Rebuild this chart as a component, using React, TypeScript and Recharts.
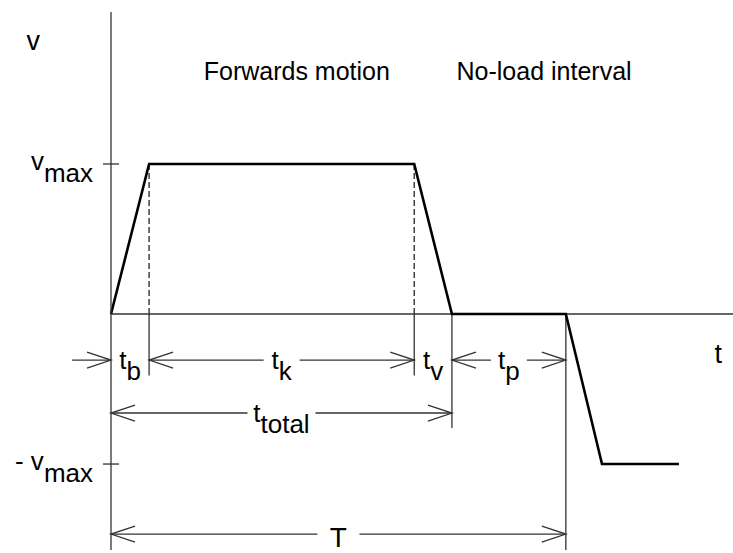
import { ComposedChart, Line, XAxis, YAxis, ReferenceLine, ReferenceDot } from 'recharts';

// velocity profile: time breakpoints (arbitrary units) and speed relative to v_max
const times = [0, 0.98, 7.8, 8.77, 11.7, 12.63, 14.61];
const speeds = [0, 1, 1, 0, 0, -1, -1];
const speedTicks = [-1, 1];
const tickPrefixes = ['- v', 'v'];
const tickSub = 'max';

const profile = times.map((t, i) => ({ t, v: speeds[i] }));

const FONT = 'Arial, "Liberation Sans", Helvetica, sans-serif';
const THIN = '#333';

// dimension rows (levels in v units, below the time axis)
const ROW_1 = -0.307;
const ROW_2 = -0.66;
const ROW_3 = -1.467;

interface DimSpec {
  from: number;
  to: number;
  level: number;
  main: string;
  sub?: string;
  kind: 'inside' | 'label' | 'lead';
  gap?: number;
  size?: number;
}

const dims: DimSpec[] = [
  { from: -1, to: times[0], level: ROW_1, main: '', kind: 'lead' },
  { from: times[0], to: times[1], level: ROW_1, main: 't', sub: 'b', kind: 'label' },
  { from: times[1], to: times[2], level: ROW_1, main: 't', sub: 'k', kind: 'inside', gap: 18 },
  { from: times[2], to: times[3], level: ROW_1, main: 't', sub: 'v', kind: 'label' },
  { from: times[3], to: times[4], level: ROW_1, main: 't', sub: 'p', kind: 'inside', gap: 18 },
  { from: times[0], to: times[3], level: ROW_2, main: 't', sub: 'total', kind: 'inside', gap: 34 },
  { from: times[0], to: times[4], level: ROW_3, main: 'T', kind: 'inside', gap: 21, size: 28 },
];

// extension lines below the axis
const extensions = [
  { t: times[1], to: -0.41 },
  { t: times[2], to: -0.41 },
  { t: times[3], to: -0.76 },
  { t: times[4], to: -1.573 },
];

const notes = [
  { t: 4.78, v: 1.56, text: 'Forwards motion' },
  { t: 11.14, v: 1.56, text: 'No-load interval' },
  { t: -2.0, v: 1.76, text: 'v' },
  { t: 15.62, v: -0.327, text: 't' },
];

function arrow(tipX: number, y: number, dir: 1 | -1) {
  // open V head, dir 1 points right
  const back = tipX - dir * 24;
  return (
    <path d={`M${back},${y - 8}L${tipX},${y}L${back},${y + 8}`} fill="none" stroke={THIN} strokeWidth={1.3} />
  );
}

function dimShape(spec: DimSpec) {
  return (props: any) => {
    const { x1, x2, y1 } = props;
    const y = y1;
    const mid = (x1 + x2) / 2;
    const size = spec.size ?? 26;
    const label = spec.main ? (
      <text x={mid} y={y + (spec.size ? 13 : 9)} textAnchor="middle" fontSize={size} fontFamily={FONT} fill="#000">
        {spec.main}
        {spec.sub ? <tspan dy={11}>{spec.sub}</tspan> : null}
      </text>
    ) : null;
    if (spec.kind === 'label') return <g>{label}</g>;
    if (spec.kind === 'lead') {
      return (
        <g>
          <line x1={x1} x2={x2} y1={y} y2={y} stroke={THIN} strokeWidth={1.3} />
          {arrow(x2, y, 1)}
        </g>
      );
    }
    const gap = spec.gap ?? 0;
    return (
      <g>
        <line x1={x1} x2={mid - gap} y1={y} y2={y} stroke={THIN} strokeWidth={1.3} />
        <line x1={mid + gap} x2={x2} y1={y} y2={y} stroke={THIN} strokeWidth={1.3} />
        {arrow(x1, y, -1)}
        {arrow(x2, y, 1)}
        {label}
      </g>
    );
  };
}

function SpeedTick(props: any) {
  const { x, y, index } = props;
  return (
    <g>
      <line x1={x - 8} x2={x + 8} y1={y} y2={y} stroke={THIN} strokeWidth={1.3} />
      <text x={x - 18} y={y + 6} textAnchor="end" fontSize={26} fontFamily={FONT} fill="#000">
        {tickPrefixes[index]}
        <tspan dy={12}>{tickSub}</tspan>
      </text>
    </g>
  );
}

export default function App() {
  return (
    <div style={{ position: 'absolute', left: 0, top: 0, background: '#fff' }}>
      <ComposedChart width={733} height={553} data={profile} margin={{ top: 12, right: 0, bottom: 3, left: 0 }}>
        <XAxis type="number" dataKey="t" domain={[0, 16]} hide />
        <YAxis
          type="number"
          domain={[-1.573, 2.013]}
          ticks={speedTicks}
          width={111}
          tickSize={0}
          tickMargin={0}
          tickLine={false}
          axisLine={{ stroke: THIN, strokeWidth: 1.3 }}
          tick={<SpeedTick />}
          allowDataOverflow
        />
        <ReferenceLine y={0} stroke={THIN} strokeWidth={1.3} />
        {extensions.map((e, i) => (
          <ReferenceLine
            key={'ext' + i}
            segment={[{ x: e.t, y: 0 }, { x: e.t, y: e.to }]}
            stroke={THIN}
            strokeWidth={1.3}
            ifOverflow="visible"
          />
        ))}
        {[times[1], times[2]].map((t, i) => (
          <ReferenceLine
            key={'dash' + i}
            segment={[{ x: t, y: 0 }, { x: t, y: speeds[1] }]}
            stroke="#333"
            strokeWidth={1.4}
            strokeDasharray="6 3"
          />
        ))}
        {dims.map((d, i) => (
          <ReferenceLine
            key={'dim' + i}
            segment={[{ x: d.from, y: d.level }, { x: d.to, y: d.level }]}
            ifOverflow="visible"
            shape={dimShape(d)}
          />
        ))}
        {notes.map((n, i) => (
          <ReferenceDot
            key={'note' + i}
            x={n.t}
            y={n.v}
            r={0}
            ifOverflow="visible"
            shape={(p: any) => (
              <text x={p.cx} y={p.cy} textAnchor="middle" fontSize={n.text.length > 2 ? 25 : 27} fontFamily={FONT} fill="#000">
                {n.text}
              </text>
            )}
          />
        ))}
        <Line
          type="linear"
          dataKey="v"
          stroke="#000"
          strokeWidth={2.6}
          dot={false}
          activeDot={false}
          isAnimationActive={false}
        />
      </ComposedChart>
    </div>
  );
}
